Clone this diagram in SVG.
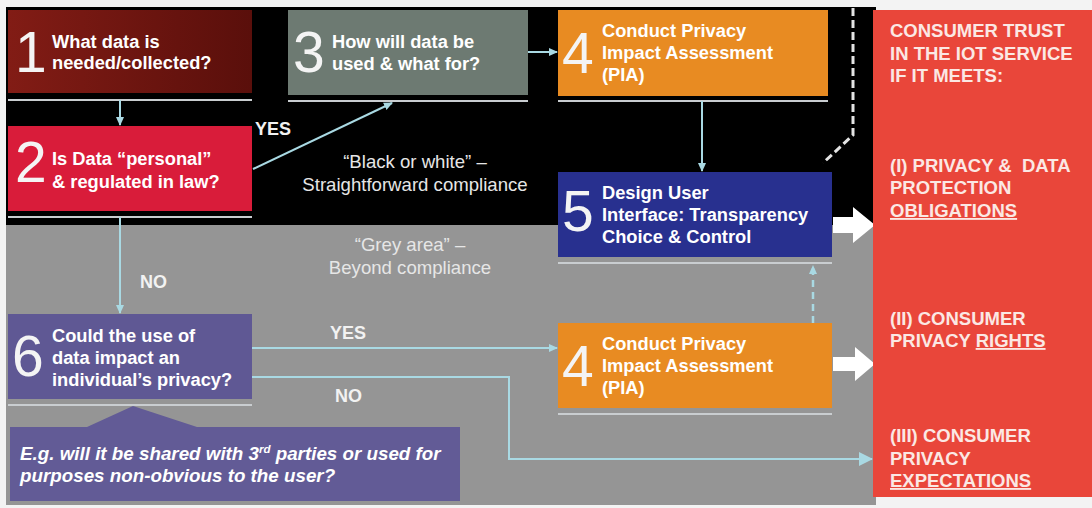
<svg xmlns="http://www.w3.org/2000/svg" width="1092" height="508" viewBox="0 0 1092 508">
  <defs>
    <linearGradient id="g1" x1="0" y1="0" x2="1" y2="0">
      <stop offset="0" stop-color="#821c15"/>
      <stop offset="1" stop-color="#5a0f0b"/>
    </linearGradient>
    <marker id="ah" markerWidth="10" markerHeight="10" refX="8" refY="5" orient="auto" markerUnits="userSpaceOnUse">
      <path d="M0,1 L9,5 L0,9 Z" fill="#a9d9e3"/>
    </marker>
    <marker id="ahb" markerWidth="16" markerHeight="16" refX="13" refY="8" orient="auto" markerUnits="userSpaceOnUse">
      <path d="M0,1 L14,8 L0,15 Z" fill="#a9d9e3"/>
    </marker>
    <style>
      .num { font-family: "Liberation Sans", Arial, sans-serif; font-size: 57px; fill: #f4f4f4; }
      .bt { font-family: "Liberation Sans", Arial, sans-serif; font-size: 18.3px; font-weight: bold; fill: #ffffff; }
      .lab { font-family: "Liberation Sans", Arial, sans-serif; font-size: 18px; font-weight: bold; fill: #f2f2f2; }
      .area { font-family: "Liberation Sans", Arial, sans-serif; font-size: 18.6px; fill: #e6e6e6; text-anchor: middle; }
      .it { font-family: "Liberation Sans", Arial, sans-serif; font-size: 18.8px; font-weight: bold; font-style: italic; fill: #ffffff; }
      .rt { font-family: "Liberation Sans", Arial, sans-serif; font-size: 18.5px; font-weight: bold; fill: #fbe8e4; }
      .ul { stroke: #c9cdd0; stroke-width: 2; }
      .conn { stroke: #a9d9e3; stroke-width: 2; fill: none; }
    </style>
  </defs>

  <!-- backgrounds -->
  <rect x="0" y="0" width="1092" height="508" fill="#f3f3f3"/>
  <rect x="6" y="7" width="870" height="218" fill="#000000"/>
  <rect x="6" y="225" width="870" height="280" fill="#959595"/>

  <!-- underlines -->
  <g id="underlines">
    <line class="ul" x1="8" y1="100" x2="252" y2="100"/>
    <line class="ul" x1="8" y1="217" x2="252" y2="217"/>
    <line class="ul" x1="288" y1="101" x2="528" y2="101"/>
    <line class="ul" x1="558" y1="101" x2="828" y2="101"/>
    <line class="ul" x1="558" y1="263" x2="832" y2="263"/>
    <line class="ul" x1="558" y1="414" x2="832" y2="414"/>
    <line class="ul" x1="8" y1="405" x2="252" y2="405"/>
  </g>

  <!-- connectors -->
  <g id="connectors">
    <line class="conn" x1="120" y1="100" x2="120" y2="125" marker-end="url(#ah)"/>
    <line class="conn" x1="120" y1="217" x2="120" y2="313" marker-end="url(#ah)"/>
    <line class="conn" x1="253" y1="169" x2="392" y2="103" marker-end="url(#ah)"/>
    <line class="conn" x1="528" y1="52" x2="557" y2="52" marker-end="url(#ah)"/>
    <line class="conn" x1="702" y1="101" x2="702" y2="171" marker-end="url(#ah)"/>
    <line class="conn" x1="252" y1="348" x2="557" y2="348" marker-end="url(#ah)"/>
    <polyline class="conn" points="252,377 509,377 509,459 872,459" marker-end="url(#ahb)"/>
    <line x1="813" y1="323" x2="813" y2="266" stroke="#a9d9e3" stroke-width="2.5" stroke-dasharray="7,5" marker-end="url(#ah)"/>
    <polyline points="853,8 853,135 823,163" fill="none" stroke="#e4e4e4" stroke-width="3" stroke-dasharray="8,4"/>
    <polygon points="833,217 853,217 853,207 875,225 853,243 853,233 833,233" fill="#ffffff"/>
    <polygon points="833,357 855,357 855,347 875,364 855,381 855,371 833,371" fill="#ffffff"/>
  </g>

  <!-- nodes -->
  <g id="node1">
    <rect x="8" y="10" width="244" height="83" fill="url(#g1)"/>
    <text class="num" x="15" y="72">1</text>
    <text class="bt" x="52" y="48">What data is</text>
    <text class="bt" x="52" y="69">needed/collected?</text>
  </g>
  <g id="node2">
    <rect x="8" y="126" width="244" height="85" fill="#d91c3a"/>
    <text class="num" x="15" y="182">2</text>
    <text class="bt" x="52" y="165">Is Data “personal”</text>
    <text class="bt" x="52" y="188">&amp; regulated in law?</text>
  </g>
  <g id="node3">
    <rect x="288" y="10" width="240" height="85" fill="#6d7a72"/>
    <text class="num" x="293" y="72">3</text>
    <text class="bt" x="332" y="48">How will data be</text>
    <text class="bt" x="332" y="70">used &amp; what for?</text>
  </g>
  <g id="node4a">
    <rect x="558" y="10" width="270" height="86" fill="#e88b22"/>
    <text class="num" x="562" y="73">4</text>
    <text class="bt" x="602" y="37">Conduct Privacy</text>
    <text class="bt" x="602" y="59">Impact Assessment</text>
    <text class="bt" x="602" y="81">(PIA)</text>
  </g>
  <g id="node5">
    <rect x="558" y="172" width="274" height="85" fill="#28308f"/>
    <text class="num" x="562" y="231">5</text>
    <text class="bt" x="602" y="199">Design User</text>
    <text class="bt" x="602" y="221">Interface: Transparency</text>
    <text class="bt" x="602" y="243">Choice &amp; Control</text>
  </g>
  <g id="node4b">
    <rect x="558" y="323" width="274" height="85" fill="#e88b22"/>
    <text class="num" x="562" y="386">4</text>
    <text class="bt" x="602" y="350">Conduct Privacy</text>
    <text class="bt" x="602" y="372">Impact Assessment</text>
    <text class="bt" x="602" y="394">(PIA)</text>
  </g>
  <g id="node6">
    <rect x="8" y="314" width="244" height="85" fill="#5f5894"/>
    <text class="num" x="12" y="376">6</text>
    <text class="bt" x="52" y="342">Could the use of</text>
    <text class="bt" x="52" y="364">data impact an</text>
    <text class="bt" x="52" y="386">individual’s privacy?</text>
  </g>
  <g id="callout">
    <polygon points="10,427 87,427 133,406 197,427 460,427 460,501 10,501" fill="#625b96"/>
    <text class="it" x="20" y="460">E.g. will it be shared with 3<tspan font-size="11.5" dy="-7">rd</tspan><tspan dy="7"> parties or used for</tspan></text>
    <text class="it" x="20" y="482">purposes non-obvious to the user?</text>
  </g>

  <!-- labels -->
  <g id="labels">
    <text class="lab" x="255" y="135">YES</text>
    <text class="lab" x="140" y="288">NO</text>
    <text class="lab" x="330" y="339">YES</text>
    <text class="lab" x="335" y="402">NO</text>
    <text class="area" x="415" y="168">“Black or white” –</text>
    <text class="area" x="415" y="191">Straightforward compliance</text>
    <text class="area" x="410" y="251">“Grey area” –</text>
    <text class="area" x="410" y="274">Beyond compliance</text>
  </g>

  <g id="trust">
    <rect x="873" y="10" width="219" height="487" fill="#e9463a"/>
    <text class="rt" x="890" y="37">CONSUMER TRUST</text>
    <text class="rt" x="890" y="60">IN THE IOT SERVICE</text>
    <text class="rt" x="890" y="82">IF IT MEETS:</text>
    <text class="rt" x="890" y="172" xml:space="preserve">(I) PRIVACY &amp;  DATA</text>
    <text class="rt" x="890" y="194">PROTECTION</text>
    <text class="rt" x="890" y="217" text-decoration="underline">OBLIGATIONS</text>
    <text class="rt" x="890" y="325">(II) CONSUMER</text>
    <text class="rt" x="890" y="347">PRIVACY <tspan text-decoration="underline">RIGHTS</tspan></text>
    <text class="rt" x="890" y="442">(III) CONSUMER</text>
    <text class="rt" x="890" y="465">PRIVACY</text>
    <text class="rt" x="890" y="487" text-decoration="underline">EXPECTATIONS</text>
  </g>
</svg>
